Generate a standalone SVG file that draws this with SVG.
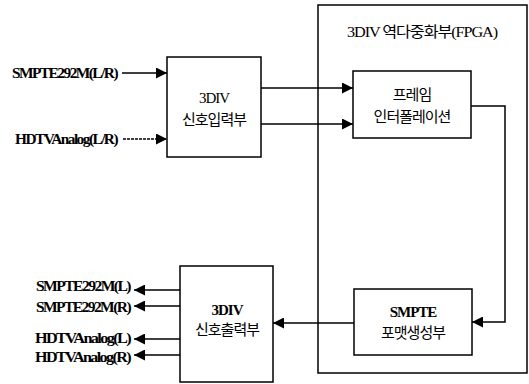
<svg xmlns="http://www.w3.org/2000/svg" width="529" height="384" viewBox="0 0 529 384">
<style>
.box{fill:#fff;stroke:#000;stroke-width:1.5}
.ln{fill:none;stroke:#000;stroke-width:1.5}
.k{font-family:"Liberation Serif","Noto Sans CJK KR",serif;font-size:15px;fill:#000;text-anchor:middle;letter-spacing:-1px}
.l{font-family:"Liberation Serif",serif;font-size:15px;fill:#000;font-weight:bold;letter-spacing:-1.5px}
</style>
<defs>
<marker id="ah" viewBox="0 0 11 11" refX="11" refY="5.5" markerWidth="11" markerHeight="11" markerUnits="userSpaceOnUse" orient="auto">
<path d="M0,0 L11,5.5 L0,11 Z" fill="#000"/>
</marker>
</defs>
<g id="fpga">
<rect class="box" x="318" y="5" width="209" height="368"/>
<text class="k" x="347" y="37" text-anchor="start" style="text-anchor:start" textLength="150" lengthAdjust="spacingAndGlyphs">3DIV 역다중화부(FPGA)</text>
</g>
<g id="input">
<rect class="box" x="167" y="57" width="94" height="100"/>
<text class="k" x="214" y="103">3DIV</text>
<text class="k" x="214" y="125">신호입력부</text>
</g>
<g id="frame">
<rect class="box" x="353" y="71" width="118" height="67"/>
<text class="k" x="412" y="100">프레임</text>
<text class="k" x="412" y="122">인터폴레이션</text>
</g>
<g id="smpte">
<rect class="box" x="354" y="289" width="118" height="66"/>
<text class="k" x="413" y="317" font-weight="bold">SMPTE</text>
<text class="k" x="413" y="338">포맷생성부</text>
</g>
<g id="output">
<rect class="box" x="180" y="266" width="93" height="116"/>
<text class="k" x="227" y="315" font-weight="bold">3DIV</text>
<text class="k" x="227" y="335">신호출력부</text>
</g>
<g id="labels">
<text class="l" x="12" y="78" textLength="105" lengthAdjust="spacingAndGlyphs">SMPTE292M(L/R)</text>
<text class="l" x="15" y="144" textLength="102" lengthAdjust="spacingAndGlyphs">HDTVAnalog(L/R)</text>
<text class="l" x="36" y="291" textLength="94" lengthAdjust="spacingAndGlyphs">SMPTE292M(L)</text>
<text class="l" x="36" y="312" textLength="94" lengthAdjust="spacingAndGlyphs">SMPTE292M(R)</text>
<text class="l" x="35" y="343" textLength="95" lengthAdjust="spacingAndGlyphs">HDTVAnalog(L)</text>
<text class="l" x="35" y="362" textLength="95" lengthAdjust="spacingAndGlyphs">HDTVAnalog(R)</text>
</g>
<g id="connectors">
<line class="ln" x1="122" y1="73" x2="167" y2="73" marker-end="url(#ah)"/>
<line class="ln" x1="123" y1="139" x2="167" y2="139" marker-end="url(#ah)" stroke-dasharray="3,1"/>
<line class="ln" x1="261" y1="88" x2="353" y2="88" marker-end="url(#ah)"/>
<line class="ln" x1="261" y1="124" x2="353" y2="124" marker-end="url(#ah)"/>
<polyline class="ln" points="471,106 505,106 505,322 472,322" marker-end="url(#ah)"/>
<line class="ln" x1="354" y1="323" x2="273" y2="323" marker-end="url(#ah)"/>
<line class="ln" x1="180" y1="290" x2="134" y2="290" marker-end="url(#ah)"/>
<line class="ln" x1="180" y1="306" x2="134" y2="306" marker-end="url(#ah)"/>
<line class="ln" x1="180" y1="339" x2="134" y2="339" marker-end="url(#ah)"/>
<line class="ln" x1="180" y1="355" x2="134" y2="355" marker-end="url(#ah)"/>
</g>
</svg>
